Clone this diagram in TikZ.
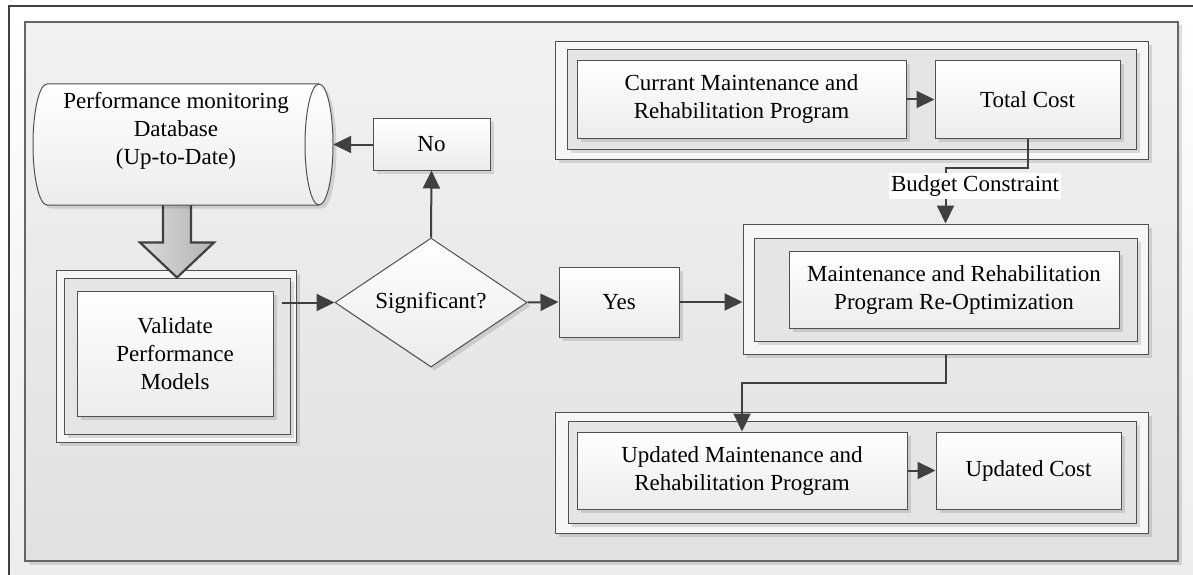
\documentclass[tikz,border=0pt]{standalone}
\usepackage{fontspec}
\setmainfont{Liberation Serif}
\usetikzlibrary{shapes.geometric,arrows.meta,shadows,calc}

\definecolor{ink}{HTML}{404040}
\definecolor{edge}{HTML}{505050}
\definecolor{panelTop}{HTML}{F2F2F2}
\definecolor{panelBot}{HTML}{E1E1E1}
\definecolor{frameOut}{HTML}{F6F6F6}
\definecolor{frameMid}{HTML}{E5E5E5}
\definecolor{boxBot}{HTML}{ECECEC}

\tikzset{
  sh/.style={drop shadow={shadow xshift=3.5pt,shadow yshift=-3.5pt,fill=black,opacity=0.12}},
  boxline/.style={draw=edge,line width=1pt},
  frameout/.style={boxline,fill=frameOut,inner sep=0,sh},
  framemid/.style={boxline,fill=frameMid,inner sep=0,sh},
  stepbox/.style={boxline,top color=white,bottom color=boxBot,inner sep=0,align=center,sh},
  decision/.style={diamond,boxline,top color=white,bottom color=boxBot,inner sep=0,aspect=1.49,sh},
  arr/.style={draw=ink,line width=2pt,-{Triangle[length=18pt,width=17pt]}},
  fat/.style={draw=ink,line width=2.2pt,line join=miter,left color=black!14,middle color=black!3,right color=black!30},
  tag/.style={fill=white,inner xsep=2pt,inner ysep=3pt}
}

\begin{document}
\begin{tikzpicture}[x=1pt,y=-1pt,font=\fontsize{23}{28}\selectfont]
\useasboundingbox (0,0) rectangle (1193,575);

% page frame and panel
\fill[white] (0,0) rectangle (1193,575);
\shade[top color=white,bottom color=black!7] (9,6) rectangle (1193,575);
\draw[ink,line width=1.3pt] (9,576) -- (9,6) -- (1194,6);
\draw[draw=black!60,line width=1.3pt,top color=panelTop,bottom color=panelBot,sh] (25,22) rectangle (1178,561);

% validation group
\node[frameout,minimum width=240,minimum height=172] (valout) at (176,356) {};
\node[framemid,minimum width=226,minimum height=156] (valmid) at (177,356) {};
\node[stepbox,minimum width=196,minimum height=125] (valbox) at (175,353.5) {Validate\\Performance\\Models};

% wide arrow from the database down to the validation step
\coordinate (fatTop) at (177,200);
\coordinate (tip) at (valmid.north);
\draw[fat] ($(fatTop)+(-14,0)$) -- ($(tip)+(-14,-35)$) -- ($(tip)+(-37,-35)$) -- (tip)
  -- ($(tip)+(37,-35)$) -- ($(tip)+(14,-35)$) -- ($(fatTop)+(14,0)$);

% database cylinder (axis horizontal, end face on the right)
\node[minimum width=300,minimum height=121,inner sep=0] (db) at (183,144.5) {};
\draw[boxline,top color=white,bottom color=boxBot,sh] (47,84) -- (319,84)
  arc[start angle=90,end angle=-90,x radius=14pt,y radius=60.5pt] -- (47,205)
  arc[start angle=-90,end angle=-270,x radius=14pt,y radius=60.5pt] -- cycle;
\draw[boxline] (319,84) arc[start angle=90,end angle=270,x radius=14pt,y radius=60.5pt];
\node[align=center] (dbtext) at (176,131) {Performance monitoring\\Database\\(Up-to-Date)};

% decision
\node[decision,minimum width=192,minimum height=129] (sig) at (431,302.5) {Significant?};
\node[stepbox,minimum width=117,minimum height=51] (no) at (431.5,144.5) {No};
\node[stepbox,minimum width=120,minimum height=70] (yes) at (619,302) {Yes};

% current programme group
\node[frameout,minimum width=592.5,minimum height=117.5] (topout) at (851.75,100.25) {};
\node[framemid,minimum width=568.5,minimum height=99] (topmid) at (851.75,99.5) {};
\node[stepbox,minimum width=329,minimum height=77] (cur) at (741.5,99.5) {Currant Maintenance and\\Rehabilitation Program};
\node[stepbox,minimum width=185,minimum height=77] (tc) at (1027.5,99.5) {Total Cost};

% re-optimisation group
\node[frameout,minimum width=405,minimum height=130] (reout) at (945.5,289) {};
\node[framemid,minimum width=383,minimum height=103] (remid) at (945.5,289.5) {};
\node[stepbox,minimum width=330,minimum height=77] (rebox) at (954,289.5) {Maintenance and Rehabilitation\\Program Re-Optimization};

% updated programme group
\node[frameout,minimum width=592.5,minimum height=121] (botout) at (852,472.5) {};
\node[framemid,minimum width=568,minimum height=102] (botmid) at (852,472) {};
\node[stepbox,minimum width=330,minimum height=77] (upd) at (742,470.5) {Updated Maintenance and\\Rehabilitation Program};
\node[stepbox,minimum width=185,minimum height=77] (ucost) at (1028.5,470.5) {Updated Cost};

% connectors
\coordinate (vout) at ($(valbox.east|-sig.west)+(8,0)$);
\draw[arr] (vout) -- (sig.west);
\draw[arr] (sig.north) -- (no.south);
\draw[arr] (no.west) -- (no.west-|db.east);
\draw[arr] (sig.east) -- (yes.west);
\draw[arr] (yes.east) -- (yes.east-|reout.west);
\draw[arr] (cur.east) -- (tc.west);
\draw[arr] (tc.south) -- ++(0,29) -| (reout.north);
\node[tag] (budget) at (975,186) {Budget Constraint};
\draw[arr] (reout.south) -- ++(0,28) -| (upd.north);
\draw[arr] (upd.east) -- (ucost.west);
\end{tikzpicture}
\end{document}
